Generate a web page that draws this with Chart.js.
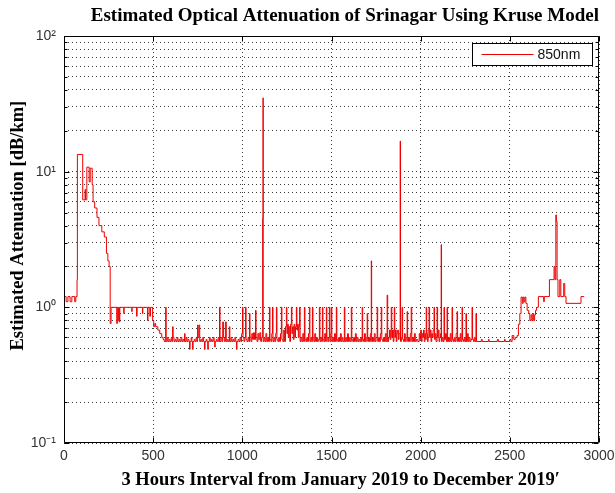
<!DOCTYPE html>
<html><head><meta charset="utf-8">
<script src="https://cdn.jsdelivr.net/npm/chart.js@4.4.1/dist/chart.umd.min.js"></script>
<style>html,body{margin:0;padding:0;background:#fff;}</style>
</head><body>
<canvas id="c" width="615" height="493"></canvas>
<script>
// ---------- text ----------
const chartTitle = 'Estimated Optical Attenuation of Srinagar Using Kruse Model';
const xAxisTitle = '\u20033 Hours Interval from January 2019 to December 2019\u2032';
const yAxisTitle = '\u2003\u2002Estimated Attenuation [dB/km]';
const seriesLabel = '850nm';

// ---------- ticks ----------
const xTickValues = [0, 500, 1000, 1500, 2000, 2500, 3000];
const xTickLabels = ['0', '500', '1000', '1500', '2000', '2500', '3000'];
const yGridValues = [0.1,0.2,0.3,0.4,0.5,0.6,0.7,0.8,0.9,1,2,3,4,5,6,7,8,9,10,20,30,40,50,60,70,80,90,100];
const yDecades = [0.1, 1, 10, 100];
const yDecadeLabels = ['10\u207B\u00B9', '10\u2070', '10\u00B9', '10\u00B2'];

// ---------- data (interval index where a value starts, value in dB/km) ----------
const janX = [0,12,22,34,44,60,66,73,75,105,
  118,121,128,141,147,158,163,172,185,196,
  212,226,238,246,253,259];
const janY = [1.2,1.1,1.2,1.1,1.2,1.1,1.2,1.6,13.4,6.2,
  7.4,6.2,10.8,8.4,10.6,8.0,6.0,5.4,4.6,4.0,
  3.6,3.3,2.5,2.2,2.0,0.76];

const plateauX = [264,296,299,304,307,310,313,335,337,380,
  382,407,410,440,442,468,471,481,485,497,
  503,509,514,526,537,548,556,562];
const plateauY = [1.0,0.76,1.0,0.8,1.0,0.78,1.0,0.9,1.0,0.93,
  1.0,0.86,1.0,0.9,1.0,0.8,1.0,0.86,1.0,0.8,
  0.72,0.76,0.72,0.68,0.64,0.6,0.58,0.56];

const springX = [570,573,579,584,590,595,601,606,609,612,
  617,623,628,634,639,645,650,656,661,667,
  672,676,679,685,690,696,701,704,707,713,
  717,721,724,730,735,741,746,749,752,757,
  761,767,772,778,783,788,791,797,802,806,
  809,815,820,826,831,837,842,845,848,854,
  859,865,870,872,875,881,887,890,894,899,
  905,910,916,921,927,930,936,941,947,952,
  958,963,967,970,976,981,987,992,996,1001,
  1004,1009,1014,1018,1021,1026,1032,1037,1040,1043,
  1048,1053,1058,1063,1068,1074,1077,1082,1087,1092,
  1098,1103,1108,1114,1116,1117];
const springY = [1.0,0.56,0.6,0.56,0.58,0.56,0.6,0.56,0.72,0.6,
  0.56,0.58,0.56,0.6,0.56,0.58,0.56,0.6,0.56,0.58,
  0.56,0.64,0.56,0.6,0.56,0.58,0.56,0.49,0.56,0.6,
  0.56,0.49,0.56,0.58,0.56,0.6,0.56,0.74,0.6,0.74,
  0.56,0.58,0.56,0.6,0.56,0.49,0.56,0.58,0.56,0.49,
  0.56,0.6,0.56,0.58,0.56,0.6,0.56,0.51,0.56,0.58,
  0.56,0.6,0.56,1.0,0.56,0.6,0.56,0.78,0.6,0.56,
  0.78,0.56,0.58,0.56,0.72,0.56,0.6,0.56,0.58,0.56,
  0.6,0.56,0.49,0.56,0.58,0.56,0.6,0.56,0.64,1.0,
  0.6,0.56,0.6,1.0,0.58,0.56,0.6,0.56,0.9,0.6,
  0.56,0.64,0.58,0.65,0.58,0.95,0.6,0.56,0.64,0.58,
  0.65,0.56,0.6,4.5,35,0.56];

const summerX = [1122,1127,1132,1137,1142,1147,1152,1155,1160,1165,
  1169,1172,1177,1182,1187,1191,1194,1199,1204,1209,
  1214,1219,1222,1227,1232,1237,1242,1247,1250,1254,
  1258,1262,1266,1270,1275,1278,1282,1286,1290,1294,
  1298,1303,1306,1310,1314,1318,1321,1324,1329,1334,
  1339,1344,1348,1351,1356,1361,1366,1371,1376,1379,
  1384,1389,1393,1396,1401,1406,1411,1416,1421,1426,
  1432,1435,1440,1445,1449,1452,1457,1462,1467,1471,
  1474,1479,1484,1488,1491,1496,1499,1502,1507,1512,
  1517,1522,1527,1530,1535,1540,1545,1550,1555,1560,
  1565,1572,1575,1580,1585,1590,1595,1600,1605,1611,
  1614,1619,1624,1629,1634,1639,1644,1649,1654,1659,
  1664,1669,1672,1675,1680,1685,1690,1695,1700,1703,
  1708,1713,1718,1723,1725,1730,1735,1740,1745,1750,
  1756,1759,1764,1769,1774,1779,1782,1787,1792,1797,
  1802,1807,1812,1815,1820,1825,1829,1833,1835,1838,
  1842,1846,1850,1852,1855,1859,1863,1867,1871,1875,
  1879,1885,1887];
const summerY = [0.6,0.56,0.64,0.56,0.6,0.56,1.0,0.58,0.56,0.64,
  1.0,0.56,0.6,0.56,0.64,1.0,0.58,0.56,0.6,0.56,
  0.64,1.0,0.58,0.56,0.68,0.56,0.72,1.0,0.64,0.75,
  0.6,0.72,0.56,0.75,1.0,0.64,0.72,0.58,0.75,0.6,
  0.72,1.0,0.68,0.75,0.6,0.72,1.0,0.56,0.6,0.56,
  0.64,0.56,1.0,0.58,0.56,0.6,0.56,0.64,1.0,0.56,
  0.6,0.56,1.0,0.6,0.56,0.64,0.56,0.6,0.56,0.58,
  1.0,0.56,0.6,0.56,1.0,0.58,0.56,0.64,0.56,1.0,
  0.6,0.56,0.6,1.0,0.56,0.64,1.0,0.56,0.6,0.56,
  0.64,0.56,1.0,0.58,0.56,0.6,0.56,0.64,0.56,0.6,
  0.56,1.0,0.56,0.6,0.56,0.64,0.56,0.6,0.56,1.0,
  0.58,0.56,0.6,0.56,0.64,0.56,0.6,0.56,0.58,0.56,
  0.6,0.56,1.0,0.58,0.56,0.64,0.56,0.6,0.9,0.56,
  0.6,0.56,0.64,2.2,0.56,0.6,0.56,0.64,0.56,0.6,
  1.0,0.56,0.6,0.56,0.64,1.0,0.58,0.56,0.6,0.56,
  0.64,0.56,1.23,0.56,0.6,0.68,0.58,0.68,1.0,0.6,
  0.68,0.56,0.68,1.0,0.6,0.68,0.56,0.64,0.68,0.58,
  0.64,16.8,0.56];

const autumnX = [1892,1896,1899,1904,1909,1914,1919,1924,1927,1932,
  1937,1942,1947,1950,1955,1960,1965,1970,1976,1984,
  1992,1996,2000,2004,2008,2012,2016,2020,2024,2028,
  2031,2034,2038,2042,2047,2050,2054,2058,2062,2066,
  2070,2075,2078,2082,2086,2092,2095,2099,2103,2107,
  2111,2115,2117,2121,2126,2131,2134,2139,2144,2148,
  2151,2156,2161,2166,2171,2176,2179,2184,2189,2194,
  2199,2204,2207,2212,2217,2222,2227,2232,2235,2240,
  2245,2250,2254,2257,2262,2267,2272,2277,2282,2288,
  2291,2296,2301,2306,2310,2313,2340,2345,2380,2384,
  2430,2436,2470,2474,2500,2506,2513,2522,2530];
const autumnY = [0.6,1.0,0.58,0.56,0.64,0.56,0.6,0.93,0.56,0.6,
  0.56,0.64,1.0,0.56,0.6,0.56,0.64,0.56,0.58,0.56,
  0.64,0.58,0.68,0.56,0.64,0.6,0.68,0.56,0.64,0.58,
  1.0,0.64,0.56,0.68,1.0,0.6,0.68,0.56,0.64,0.6,
  0.68,1.0,0.58,0.64,0.56,1.0,0.6,0.68,0.56,0.6,
  0.64,2.9,0.56,0.6,0.56,1.0,0.58,0.64,0.56,1.0,
  0.56,0.6,0.56,0.64,0.56,1.0,0.58,0.56,0.6,0.56,
  0.64,0.93,0.56,0.6,0.56,0.64,0.56,1.0,0.58,0.56,
  0.6,0.56,0.9,0.56,0.64,0.56,0.6,0.56,0.58,1.0,
  0.58,0.56,0.6,0.56,0.9,0.56,0.58,0.56,0.58,0.56,
  0.58,0.56,0.58,0.56,0.58,0.56,0.62,0.58,0.6];

const winterX = [2541,2548,2556,2563,2570,2575,2580,2585,2590,2597,
  2606,2612,2619,2624,2629,2634,2639,2644,2650,2660,
  2690,2693,2722,2748,2753,2758,2761,2765,2770,2780,
  2786,2802,2808,2815,2899,2917];
const winterY = [0.62,0.75,0.9,1.19,1.07,1.19,1.1,1.19,1.07,0.95,
  0.9,0.8,0.88,0.8,0.9,0.8,0.88,0.95,1.0,1.2,
  1.1,1.2,1.6,2.0,1.6,4.8,4.3,1.6,1.2,1.6,
  1.2,1.5,1.2,1.07,1.2,1.2];

const hourIndex = [].concat(janX, plateauX, springX, summerX, autumnX, winterX);
const attenuation = [].concat(janY, plateauY, springY, summerY, autumnY, winterY);

// ---------- style ----------
const lineColor = '#ee0000';
const gridColor = '#3a3a3a';
const tickFont = {family: 'Liberation Sans', size: 14};
const serifBold = (s) => ({family: 'Liberation Serif', size: s, weight: 'bold', lineHeight: 1.2});

const framePlugin = {
  id: 'frameAndLegend',
  afterDatasetsDraw(chart) {
    const {ctx, chartArea: a, scales: {x, y}} = chart;
    const L = Math.round(a.left) + 0.5, R = Math.round(a.right) - 0.5;
    const T = Math.round(a.top) + 0.5, B = Math.round(a.bottom) - 0.5;
    ctx.save();
    ctx.strokeStyle = '#000';
    ctx.lineWidth = 1;
    ctx.beginPath();
    ctx.rect(L, T, R - L, B - T);
    x.ticks.forEach(t => {
      const px = Math.round(x.getPixelForValue(t.value)) + 0.5;
      ctx.moveTo(px, B); ctx.lineTo(px, B - 5);
      ctx.moveTo(px, T); ctx.lineTo(px, T + 5);
    });
    y.ticks.forEach(t => {
      const py = Math.round(y.getPixelForValue(t.value)) + 0.5;
      const len = yDecades.includes(t.value) ? 5 : 3;
      ctx.moveTo(L, py); ctx.lineTo(L + len, py);
      ctx.moveTo(R, py); ctx.lineTo(R - len, py);
    });
    ctx.stroke();
    const ds = chart.data.datasets[0];
    const bw = 120, bh = 22;
    const bx = Math.round(a.right) - 7 - bw + 0.5, by = Math.round(a.top) + 7 + 0.5;
    ctx.fillStyle = '#fff';
    ctx.fillRect(bx, by, bw, bh);
    ctx.strokeStyle = '#000';
    ctx.strokeRect(bx, by, bw, bh);
    ctx.beginPath();
    ctx.strokeStyle = ds.borderColor;
    ctx.moveTo(bx + 9, by + bh / 2);
    ctx.lineTo(bx + 61, by + bh / 2);
    ctx.stroke();
    ctx.fillStyle = '#111';
    ctx.font = '14px "Liberation Sans"';
    ctx.textBaseline = 'middle';
    ctx.textAlign = 'left';
    ctx.fillText(ds.label, bx + 65, by + bh / 2 + 1);
    ctx.restore();
  }
};

new Chart(document.getElementById('c'), {
  type: 'line',
  data: {
    datasets: [{
      label: seriesLabel,
      data: hourIndex.map((v, i) => ({x: v, y: attenuation[i]})),
      borderColor: lineColor,
      borderWidth: 1,
      pointRadius: 0,
      stepped: true,
      fill: false
    }]
  },
  options: {
    responsive: false,
    animation: false,
    devicePixelRatio: 1,
    layout: {padding: {left: 0, right: 16, top: 0, bottom: 0}},
    plugins: {
      legend: {display: false},
      tooltip: {enabled: false},
      title: {
        display: true,
        text: chartTitle,
        align: 'end',
        color: '#000',
        font: serifBold(19),
        padding: {top: 5, bottom: 8.2}
      }
    },
    scales: {
      x: {
        type: 'linear',
        min: 0, max: 3000,
        afterBuildTicks: (s) => { s.ticks = xTickValues.map(v => ({value: v})); },
        afterFit: (s) => { s.height = 50; s.paddingLeft = 0; s.paddingRight = 0; },
        grid: {color: gridColor, lineWidth: 1, drawTicks: false},
        border: {display: false, dash: [1, 3]},
        ticks: {
          color: '#333', font: tickFont, padding: 5, maxRotation: 0, autoSkip: false,
          callback: (v) => { const k = xTickValues.indexOf(v); return k >= 0 ? xTickLabels[k] : ''; }
        },
        title: {display: true, text: xAxisTitle, color: '#000', font: serifBold(18.5), padding: {top: 0, bottom: 2}}
      },
      y: {
        type: 'logarithmic',
        min: 0.1, max: 100,
        afterBuildTicks: (s) => { s.ticks = yGridValues.map(v => ({value: v, major: yDecades.includes(v)})); },
        afterFit: (s) => { s.width = 64; s.paddingTop = 0; s.paddingBottom = 0; },
        grid: {color: gridColor, lineWidth: 1, drawTicks: false},
        border: {display: false, dash: [1, 3]},
        ticks: {
          color: '#333', font: tickFont, padding: 8, autoSkip: false,
          callback: (v) => { const k = yDecades.indexOf(v); return k >= 0 ? yDecadeLabels[k] : ''; }
        },
        title: {display: true, text: yAxisTitle, color: '#000', font: serifBold(18.5), padding: {top: 7, bottom: 0}}
      }
    }
  },
  plugins: [framePlugin]
});
</script>
</body></html>
